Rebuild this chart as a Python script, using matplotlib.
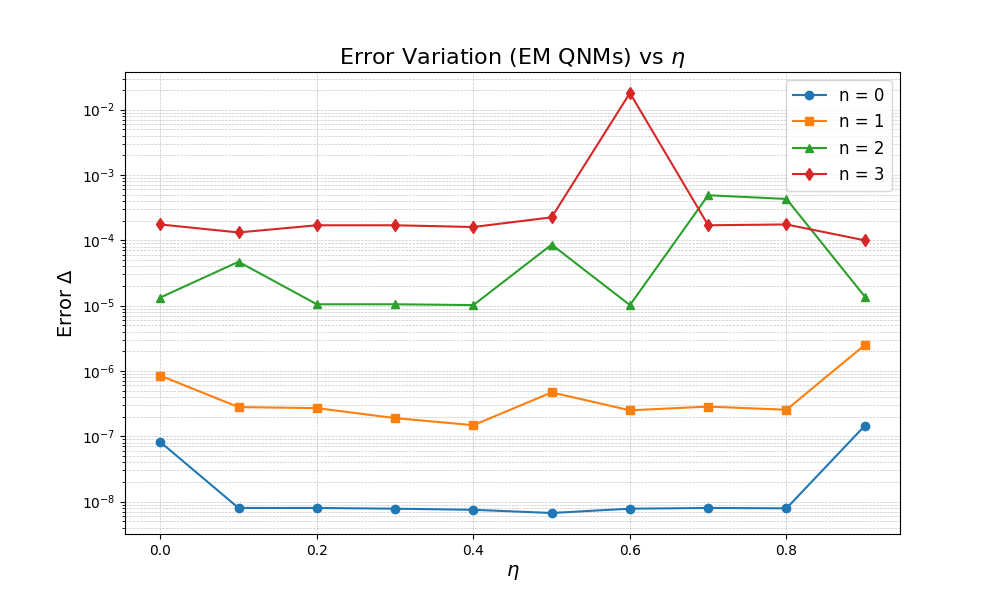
import matplotlib
matplotlib.use("Agg")
import matplotlib.pyplot as plt

eta = [0.0, 0.1, 0.2, 0.3, 0.4, 0.5, 0.6, 0.7, 0.8, 0.9]
err_n0 = [8.2e-8, 8.0e-9, 8.0e-9, 7.8e-9, 7.5e-9, 6.7e-9, 7.8e-9, 8.0e-9, 7.9e-9, 1.45e-7]
err_n1 = [8.5e-7, 2.8e-7, 2.7e-7, 1.9e-7, 1.48e-7, 4.7e-7, 2.5e-7, 2.85e-7, 2.55e-7, 2.5e-6]
err_n2 = [1.33e-5, 4.7e-5, 1.05e-5, 1.05e-5, 1.02e-5, 8.6e-5, 1.02e-5, 4.9e-4, 4.3e-4, 1.38e-5]
err_n3 = [1.75e-4, 1.32e-4, 1.70e-4, 1.70e-4, 1.60e-4, 2.25e-4, 1.8e-2, 1.70e-4, 1.75e-4, 1.0e-4]

series = [("n = 0", err_n0, "o"), ("n = 1", err_n1, "s"),
          ("n = 2", err_n2, "^"), ("n = 3", err_n3, "d")]

fig, ax = plt.subplots(figsize=(10, 6), dpi=100)
for label, vals, m in series:
    ax.plot(eta, vals, marker=m, label=label)
ax.set_yscale("log")
ax.set_title(r"Error Variation (EM QNMs) vs $\eta$", fontsize=16)
ax.set_xlabel(r"$\eta$", fontsize=14)
ax.set_ylabel(r"Error $\Delta$", fontsize=14)
ax.grid(True, which="both", linestyle="--", linewidth=0.5, alpha=0.7)
ax.legend(fontsize=12)
fig.savefig("out.png")
